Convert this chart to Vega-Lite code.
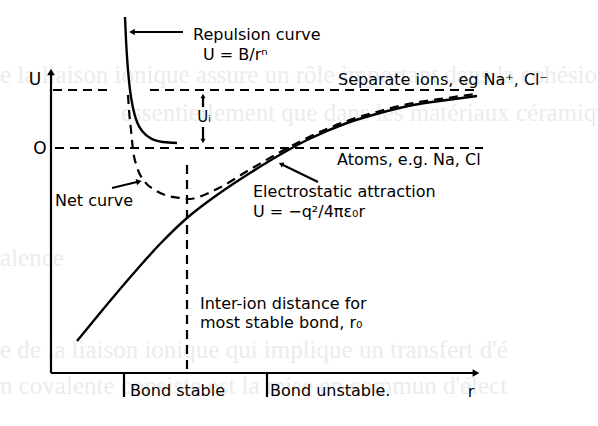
{
  "$schema": "https://vega.github.io/schema/vega-lite/v6.json",
  "width": 598,
  "height": 426,
  "autosize": "none",
  "padding": 0,
  "background": "white",
  "config": {"view": {"stroke": null}},
  "datasets": {
    "ghost": [
      {"r": -5.1, "U": 7.3, "text": "e la liaison ionique assure un rôle important dans la cohésion"},
      {"r": 7.0, "U": 3.5, "text": "essentiellement que dans les matériaux céramiques"},
      {"r": -5.1, "U": -11.0, "text": "alence"},
      {"r": -5.1, "U": -20.2, "text": "e de la liaison ionique qui implique un transfert d'é"},
      {"r": -5.1, "U": -23.8, "text": "n covalente consiste est la mise en commun d'élect"}
    ],
    "curves": [
      {"series": "repulsion", "i": 1, "r": 7.4, "U": 13.1},
      {"series": "repulsion", "i": 2, "r": 7.5, "U": 10.8},
      {"series": "repulsion", "i": 3, "r": 7.7, "U": 7.8},
      {"series": "repulsion", "i": 4, "r": 7.9, "U": 5.8},
      {"series": "repulsion", "i": 5, "r": 8.2, "U": 4.0},
      {"series": "repulsion", "i": 6, "r": 8.6, "U": 2.6},
      {"series": "repulsion", "i": 7, "r": 9.2, "U": 1.6},
      {"series": "repulsion", "i": 8, "r": 10.1, "U": 0.9},
      {"series": "repulsion", "i": 9, "r": 11.2, "U": 0.6},
      {"series": "repulsion", "i": 10, "r": 12.6, "U": 0.5},
      {"series": "electrostatic", "i": 1, "r": 2.6, "U": -19.3},
      {"series": "electrostatic", "i": 2, "r": 4.9, "U": -16.5},
      {"series": "electrostatic", "i": 3, "r": 8.2, "U": -12.6},
      {"series": "electrostatic", "i": 4, "r": 10.9, "U": -9.6},
      {"series": "electrostatic", "i": 5, "r": 13.6, "U": -7.0},
      {"series": "electrostatic", "i": 6, "r": 16.6, "U": -4.7},
      {"series": "electrostatic", "i": 7, "r": 19.9, "U": -2.5},
      {"series": "electrostatic", "i": 8, "r": 23.2, "U": -0.5},
      {"series": "electrostatic", "i": 9, "r": 25.6, "U": 0.8},
      {"series": "electrostatic", "i": 10, "r": 29.6, "U": 2.5},
      {"series": "electrostatic", "i": 11, "r": 32.9, "U": 3.5},
      {"series": "electrostatic", "i": 12, "r": 36.2, "U": 4.3},
      {"series": "electrostatic", "i": 13, "r": 39.6, "U": 4.8},
      {"series": "electrostatic", "i": 14, "r": 42.6, "U": 5.2},
      {"series": "net", "i": 1, "r": 7.7, "U": 5.3},
      {"series": "net", "i": 2, "r": 7.8, "U": 3.8},
      {"series": "net", "i": 3, "r": 8.0, "U": 1.8},
      {"series": "net", "i": 4, "r": 8.2, "U": -0.2},
      {"series": "net", "i": 5, "r": 8.6, "U": -1.9},
      {"series": "net", "i": 6, "r": 9.4, "U": -3.4},
      {"series": "net", "i": 7, "r": 10.4, "U": -4.2},
      {"series": "net", "i": 8, "r": 11.4, "U": -4.7},
      {"series": "net", "i": 9, "r": 12.9, "U": -5.0},
      {"series": "net", "i": 10, "r": 13.9, "U": -5.1},
      {"series": "net", "i": 11, "r": 14.6, "U": -4.95},
      {"series": "net", "i": 12, "r": 16.6, "U": -4.1},
      {"series": "net", "i": 13, "r": 19.9, "U": -2.15},
      {"series": "net", "i": 14, "r": 23.2, "U": -0.25},
      {"series": "net", "i": 15, "r": 25.6, "U": 1.0},
      {"series": "net", "i": 16, "r": 29.6, "U": 2.7},
      {"series": "net", "i": 17, "r": 32.9, "U": 3.7},
      {"series": "net", "i": 18, "r": 36.2, "U": 4.5},
      {"series": "net", "i": 19, "r": 39.6, "U": 5.0},
      {"series": "net", "i": 20, "r": 42.4, "U": 5.4}
    ],
    "segments": [
      {"name": "U axis", "dashed": false, "r": 0, "U": -22.5, "r2": 0, "U2": 7.6},
      {"name": "r axis", "dashed": false, "r": 0, "U": -22.5, "r2": 42.5, "U2": -22.5},
      {"name": "tick stable", "dashed": false, "r": 7.3, "U": -22.5, "r2": 7.3, "U2": -24.9},
      {"name": "tick unstable", "dashed": false, "r": 21.6, "U": -22.5, "r2": 21.6, "U2": -24.9},
      {"name": "repulsion pointer", "dashed": false, "r": 13.2, "U": 11.6, "r2": 8.0, "U2": 11.6},
      {"name": "net pointer", "dashed": false, "r": 6.1, "U": -4.0, "r2": 8.8, "U2": -3.35},
      {"name": "electrostatic pointer", "dashed": false, "r": 26.7, "U": -3.4, "r2": 23.0, "U2": -1.6},
      {"name": "Ui upper", "dashed": false, "r": 15.2, "U": 5.2, "r2": 15.2, "U2": 4.1},
      {"name": "Ui lower", "dashed": false, "r": 15.2, "U": 2.1, "r2": 15.2, "U2": 0.7},
      {"name": "zero level", "dashed": true, "r": 0.4, "U": 0, "r2": 43.2, "U2": 0},
      {"name": "ions level left", "dashed": true, "r": 0.2, "U": 5.8, "r2": 5.6, "U2": 5.8},
      {"name": "ions level right", "dashed": true, "r": 9.9, "U": 5.8, "r2": 42.9, "U2": 5.8},
      {"name": "r0", "dashed": true, "r": 13.6, "U": -1.7, "r2": 13.6, "U2": -22.5}
    ],
    "arrows": [
      {"r": 0, "U": 7.6, "shape": "triangle-up", "angle": 0, "size": 60},
      {"r": 42.5, "U": -22.5, "shape": "triangle-right", "angle": 0, "size": 60},
      {"r": 8.1, "U": 11.6, "shape": "triangle-left", "angle": 0, "size": 40},
      {"r": 8.8, "U": -3.35, "shape": "triangle-right", "angle": -13, "size": 40},
      {"r": 23.0, "U": -1.6, "shape": "triangle-left", "angle": 26, "size": 30},
      {"r": 15.2, "U": 5.2, "shape": "triangle-up", "angle": 0, "size": 25},
      {"r": 15.2, "U": 0.7, "shape": "triangle-down", "angle": 0, "size": 25}
    ],
    "labelsLeft": [
      {"r": 14.2, "U": 11.3, "text": "Repulsion curve", "size": 16},
      {"r": 15.2, "U": 9.3, "text": "U = B/rⁿ", "size": 16},
      {"r": 28.7, "U": 6.8, "text": "Separate ions, eg Na⁺, Cl⁻", "size": 16},
      {"r": 28.6, "U": -1.2, "text": "Atoms, e.g. Na, Cl", "size": 16},
      {"r": 0.4, "U": -5.3, "text": "Net curve", "size": 16},
      {"r": 20.2, "U": -4.4, "text": "Electrostatic attraction", "size": 16},
      {"r": 20.2, "U": -6.4, "text": "U = −q²/4πε₀r", "size": 16},
      {"r": 14.9, "U": -15.6, "text": "Inter-ion distance for", "size": 16},
      {"r": 14.9, "U": -17.5, "text": "most stable bond,  r₀", "size": 16},
      {"r": 7.9, "U": -24.3, "text": "Bond stable", "size": 16},
      {"r": 21.9, "U": -24.3, "text": "Bond unstable.", "size": 16}
    ],
    "labelsCenter": [
      {"r": -1.6, "U": 6.8, "text": "U", "size": 17},
      {"r": -1.1, "U": -0.1, "text": "O", "size": 17},
      {"r": 15.3, "U": 3.1, "text": "Uᵢ", "size": 15},
      {"r": 42.0, "U": -24.4, "text": "r", "size": 16}
    ]
  },
  "encoding": {
    "x": {"field": "r", "type": "quantitative", "scale": {"domain": [-5.1, 54.7], "nice": false, "zero": false}, "axis": null},
    "y": {"field": "U", "type": "quantitative", "scale": {"domain": [-27.8, 14.8], "nice": false, "zero": false}, "axis": null}
  },
  "layer": [
    {
      "data": {"name": "ghost"},
      "mark": {"type": "text", "align": "left", "baseline": "middle", "font": "Liberation Serif", "fontSize": 25, "color": "#ececec", "clip": true},
      "encoding": {"text": {"field": "text"}}
    },
    {
      "data": {"name": "segments"},
      "transform": [{"filter": "!datum.dashed"}],
      "mark": {"type": "rule", "color": "black", "strokeWidth": 2.2},
      "encoding": {"x2": {"field": "r2"}, "y2": {"field": "U2"}}
    },
    {
      "data": {"name": "segments"},
      "transform": [{"filter": "datum.dashed"}],
      "mark": {"type": "rule", "color": "black", "strokeWidth": 2.2, "strokeDash": [9, 6]},
      "encoding": {"x2": {"field": "r2"}, "y2": {"field": "U2"}}
    },
    {
      "data": {"name": "curves"},
      "transform": [{"filter": "datum.series !== 'net'"}],
      "mark": {"type": "line", "color": "black", "strokeWidth": 2.4, "interpolate": "monotone"},
      "encoding": {"detail": {"field": "series"}, "order": {"field": "i", "type": "quantitative"}}
    },
    {
      "data": {"name": "curves"},
      "transform": [{"filter": "datum.series === 'net'"}],
      "mark": {"type": "line", "color": "black", "strokeWidth": 2.2, "strokeDash": [9, 6], "interpolate": "monotone"},
      "encoding": {"detail": {"field": "series"}, "order": {"field": "i", "type": "quantitative"}}
    },
    {
      "data": {"name": "arrows"},
      "mark": {"type": "point", "filled": true, "color": "black", "opacity": 1},
      "encoding": {
        "shape": {"field": "shape", "type": "nominal", "scale": null},
        "angle": {"field": "angle", "type": "quantitative", "scale": null},
        "size": {"field": "size", "type": "quantitative", "scale": null}
      }
    },
    {
      "data": {"name": "labelsLeft"},
      "mark": {"type": "text", "align": "left", "baseline": "middle", "font": "DejaVu Sans", "color": "black"},
      "encoding": {"text": {"field": "text"}, "size": {"field": "size", "type": "quantitative", "scale": null}}
    },
    {
      "data": {"name": "labelsCenter"},
      "mark": {"type": "text", "align": "center", "baseline": "middle", "font": "DejaVu Sans", "color": "black"},
      "encoding": {"text": {"field": "text"}, "size": {"field": "size", "type": "quantitative", "scale": null}}
    }
  ]
}
